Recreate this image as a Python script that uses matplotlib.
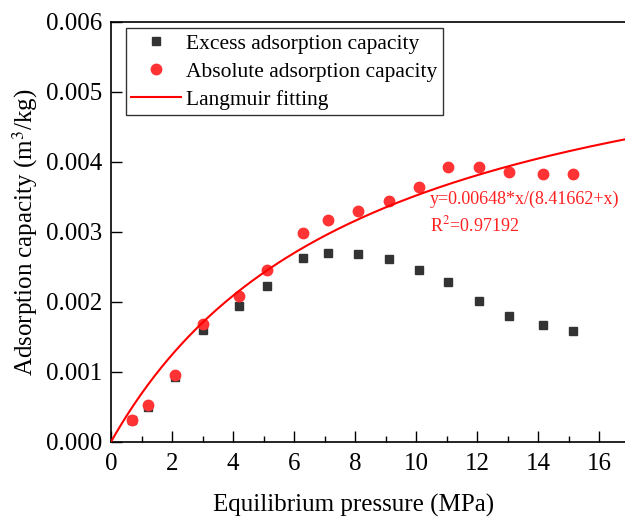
import matplotlib.pyplot as plt
import numpy as np
from matplotlib.ticker import MultipleLocator

plt.rcParams['font.family'] = ['Liberation Serif', 'DejaVu Serif']
plt.rcParams['mathtext.fontset'] = 'stix'

# pressure (MPa)
pressure = [0.7, 1.2, 2.1, 3.0, 4.2, 5.1, 6.3, 7.1, 8.1, 9.1, 10.1, 11.05, 12.05, 13.05, 14.15, 15.15]
excess = [0.00031, 0.00050, 0.00092, 0.00160, 0.00194, 0.00223, 0.00262, 0.00270,
          0.00268, 0.00261, 0.00245, 0.00228, 0.00201, 0.00180, 0.00167, 0.00158]
absolute = [0.00031, 0.00052, 0.00096, 0.00168, 0.00208, 0.00246, 0.00299, 0.00317,
            0.00330, 0.00344, 0.00364, 0.00392, 0.00393, 0.00386, 0.00383, 0.00382]
# langmuir fit params
a_fit = 0.00648
b_fit = 8.41662

fig = plt.figure(figsize=(6.25, 5.21), dpi=100)
ax = fig.add_axes([0.1776, 0.152, 0.8296, 0.806])

xfit = np.linspace(0, 17, 300)
yfit = a_fit * xfit / (b_fit + xfit)

ax.plot(pressure, excess, 's', color='#333333', ms=6, label='Excess adsorption capacity', zorder=3)
ax.plot(pressure, absolute, 'o', color='#ff3333', ms=7.5, label='Absolute adsorption capacity', zorder=4)
ax.plot(xfit, yfit, '-', color='#ff0000', lw=1.5, label='Langmuir fitting', zorder=5)

ax.text(10.45, 0.00340, 'y=0.00648*x/(8.41662+x)', color='#ff2020', fontsize=13)
ax.text(10.45, 0.00300, 'R$^2$=0.97192', color='#ff2020', fontsize=13)

ax.set_xlim(0, 17)
ax.set_ylim(0, 0.006)
ax.xaxis.set_major_locator(MultipleLocator(2))
ax.xaxis.set_minor_locator(MultipleLocator(1))
ax.yaxis.set_major_locator(MultipleLocator(0.001))
ax.yaxis.set_major_formatter(plt.FormatStrFormatter('%.3f'))
ax.tick_params(which='major', direction='in', length=8, width=1, labelsize=18)
ax.tick_params(axis='x', which='major', pad=8)
ax.tick_params(axis='y', which='major', pad=6.5)
ax.tick_params(which='minor', direction='in', length=4, width=1)
ax.tick_params(axis='y', which='minor', left=False)
for s in ax.spines.values():
    s.set_linewidth(1.2)
ax.spines['right'].set_visible(False)

ax.set_xlabel('Equilibrium pressure (MPa)', fontsize=18)
ax.xaxis.set_label_coords(0.467, -0.125)
ax.set_ylabel('Adsorption capacity (m$^3$/kg)', fontsize=18, labelpad=4)

leg = ax.legend(loc='upper left', bbox_to_anchor=(0.029, 0.985), fontsize=15.5,
                frameon=True, fancybox=False, edgecolor='black', borderaxespad=0,
                handlelength=2.3, borderpad=0.25, labelspacing=0.37, handletextpad=0.25)
leg.get_frame().set_linewidth(1.0)

plt.savefig('out.png', dpi=100)
